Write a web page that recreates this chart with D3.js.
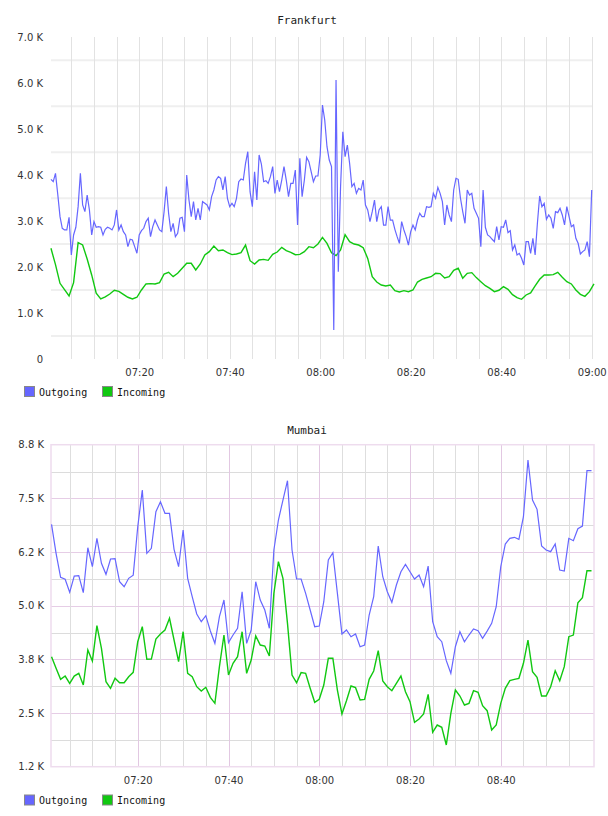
<!DOCTYPE html>
<html>
<head>
<meta charset="utf-8">
<script src="https://cdn.jsdelivr.net/npm/d3@7"></script>
<style>
body{margin:0;background:#fff;}
text{font-family:"DejaVu Sans",sans-serif;}
</style>
</head>
<body>
<div id="chart"></div>
<script>
// Frankfurt: outgoing every 30 s from 07:00:30, incoming every minute from 07:00:30
var fraOut = [
 3910,3859,4040,3584,3098,2844,2808,2808,3083,2264,
 2699,2866,3315,4041,3352,3207,3569,3243,2699,2989,
 2866,2880,2866,2699,2822,2866,2844,2808,2917,3243,
 2808,2917,2771,2699,2445,2605,2590,2445,2300,2699,
 2793,2844,2989,3062,2663,2880,3025,2917,2808,2771,
 3207,3751,3170,2771,2953,2663,2735,3062,3083,2771,
 4005,3460,3098,3424,3025,3279,3025,3424,3388,3352,
 3243,3533,3678,3896,3968,3932,3678,3968,3497,3315,
 3388,3315,3497,3859,3916,3895,4257,4511,3641,3314,
 4076,3459,4439,4243,3858,3880,3822,3967,4185,3604,
 3894,3641,3894,4185,3894,3532,3822,3822,4112,2915,
 4366,3532,3894,4388,4293,4076,3858,3982,3982,4439,
 5526,5200,4620,4330,4185,631,6070,1900,3749,4946,
 4402,4656,4257,3750,3822,3604,3713,3677,3894,3350,
 3242,2988,3206,3459,2988,3242,3314,2915,2915,3314,
 3024,3024,2821,2662,2517,2988,2807,2662,2480,2770,
 2915,2807,3024,3169,3097,3097,3314,3300,3314,3604,
 3496,3735,3604,3424,2917,3352,3134,2989,3678,3932,
 3910,3497,3207,2953,3678,3569,3605,3279,3170,3062,
 2445,3678,2866,2699,2663,2605,2554,2880,2590,2880,
 2866,3025,2750,2793,2373,2481,2264,2300,2191,2046,
 2554,2554,2300,2626,2264,2953,3547,3315,3388,3040,
 3134,3062,2844,3207,3185,3279,3134,2917,3315,3098,
 2880,2917,2626,2518,2285,2336,2373,2554,2228,3678
];
var fraIn = [
 2409,2053,1647,1509,1372,1662,2532,2481,2177,1829,
 1430,1306,1350,1415,1495,1473,1408,1343,1306,1343,
 1502,1633,1640,1633,1662,1850,1887,1792,1865,1974,
 2082,2082,1937,2068,2264,2336,2460,2358,2373,2315,
 2271,2285,2313,2480,2139,2067,2154,2168,2147,2277,
 2328,2429,2357,2321,2270,2277,2335,2444,2422,2502,
 2647,2516,2313,2248,2371,2705,2553,2502,2480,2422,
 2190,1791,1675,1610,1588,1610,1487,1458,1487,1465,
 1501,1675,1733,1762,1791,1864,1858,1763,1792,1930,
 1974,1756,1865,1879,1771,1683,1596,1538,1466,1495,
 1575,1517,1401,1335,1299,1393,1437,1589,1734,1829,
 1829,1836,1887,1778,1683,1633,1502,1408,1364,1466,
 1633
];
// Mumbai: both series every minute from 07:01
var mumOut = [
 6921,6236,5670,5623,5316,5700,5710,5307,6368,5920,
 6590,6000,5740,6102,6110,5566,5448,5646,5720,6864,
 7730,6236,6354,7218,7454,7180,7180,6330,5920,6786,
 5646,5212,4804,4622,4764,4403,4112,4740,5134,4130,
 4308,4466,5330,4112,4426,5566,5134,4898,4466,6314,
 7022,7494,7950,6314,5630,5630,5292,4898,4504,4520,
 5094,6078,6250,5292,4332,4426,4268,4332,4032,4070,
 4780,5212,6408,5684,5330,5080,5488,5802,5976,5802,
 5630,5724,5448,5936,4622,4268,4150,3702,3404,4032,
 4386,4150,4308,4450,4410,4230,4400,4584,4976,5920,
 6456,6590,6614,6567,7100,8438,7494,7274,6408,6314,
 6275,6456,5842,5818,6590,6535,6817,6880,8186,8186
];
var mumIn = [
 3796,3522,3263,3340,3168,3340,3404,3128,3954,3694,
 4528,3994,3206,3050,3286,3182,3182,3324,3428,4150,
 4504,3735,3740,4214,4332,4426,4702,4190,3678,4386,
 3404,3324,3088,2987,3074,2838,2696,3560,4308,3364,
 3640,3796,4386,3404,3718,4285,4072,4048,3813,5292,
 6038,5646,4584,3364,3182,3420,3404,3050,2720,2790,
 3128,3758,3758,3010,2444,2758,3105,3066,2774,2790,
 3263,3459,3938,3222,3088,2994,3168,3340,2970,2735,
 2248,2326,2444,2909,2012,2184,2130,1712,2460,3010,
 2868,2656,2695,2994,2955,2640,2522,2066,2184,2695,
 3050,3230,3260,3286,3640,4190,3442,3310,2868,2868,
 3088,3466,3230,3560,4268,4307,5070,5188,5826,5826
];

var seriesNames = ["Outgoing","Incoming"];
var seriesColors = ["#6666ff","#11c811"];
var fraTicksY = [0,1000,2000,3000,4000,5000,6000,7000];
var fraLabelsY = ["0","1.0 K","2.0 K","3.0 K","4.0 K","5.0 K","6.0 K","7.0 K"];
var mumLabelsY = ["1.2 K","2.5 K","3.8 K","5.0 K","6.2 K","7.5 K","8.8 K"];
var fraTicksX = ["07:20","07:40","08:00","08:20","08:40","09:00"];
var mumTicksX = ["07:20","07:40","08:00","08:20","08:40"];

function init(){
    var svg = d3.select("#chart").append("svg")
                .attr("width", 608)
                .attr("height", 816);
    svg.append("rect").attr("width",608).attr("height",816).attr("fill","#fff");

    var day = function(s){
        var p = s.split(":");
        return new Date(2000,0,1,+p[0],+p[1],+(p[2]||0));
    };
    var series = function(arr, start, step){
        var t0 = +day(start);
        return arr.map((v,i)=>({t:new Date(t0+i*step*1000), v:v}));
    };
    var fmt = d3.timeFormat("%H:%M");

    // ---------- Frankfurt ----------
    var g1 = svg.append("g");
    var x1 = d3.scaleTime().domain([day("07:00"),day("09:00")]).range([48.7,591.7]);
    var y1 = d3.scaleLinear().domain([0,7000]).range([359,37.3]);

    g1.append("text").attr("x",307).attr("y",24).attr("text-anchor","middle")
        .style("font-family","DejaVu Sans Mono").style("font-size","11px").attr("fill","#222")
        .text("Frankfurt");

    g1.selectAll(".hg").data(d3.range(500,7000,1000)).enter().append("line")
        .attr("x1",51).attr("x2",593)
        .attr("y1",d=>y1(d)).attr("y2",d=>y1(d))
        .attr("stroke","#efefef").attr("stroke-width",2);

    var fiveMin1 = d3.timeMinute.every(5).range(day("07:05"), day("09:00:30"));
    g1.selectAll(".vg").data(fiveMin1).enter().append("line")
        .attr("x1",d=>Math.round(x1(d))+0.5).attr("x2",d=>Math.round(x1(d))+0.5)
        .attr("y1",37).attr("y2",359)
        .attr("stroke","#e2e2e2").attr("stroke-width",1);

    var ax1 = d3.axisLeft(y1).tickValues(fraTicksY).tickSize(0).tickPadding(8)
        .tickFormat((d,i)=>fraLabelsY[i]);
    var gy1 = g1.append("g").attr("transform","translate(51,0)").call(ax1);
    gy1.select(".domain").remove();
    gy1.selectAll("text").style("font-size","10px").style("font-family","DejaVu Sans").attr("fill","#333");

    var ax1x = d3.axisBottom(x1).tickValues(fraTicksX.map(day)).tickSize(0).tickPadding(10)
        .tickFormat(fmt);
    var gx1 = g1.append("g").attr("transform","translate(0,359)").call(ax1x);
    gx1.select(".domain").remove();
    gx1.selectAll("text").style("font-size","10px").style("font-family","DejaVu Sans").attr("fill","#333");

    var line1 = d3.line().x(d=>x1(d.t)).y(d=>y1(d.v));
    g1.append("path").datum(series(fraIn,"07:00:30",60))
        .attr("d",line1).attr("fill","none").attr("stroke",seriesColors[1]).attr("stroke-width",1.4);
    g1.append("path").datum(series(fraOut,"07:00:30",30))
        .attr("d",line1).attr("fill","none").attr("stroke",seriesColors[0]).attr("stroke-width",1.2);

    drawLegend(svg, 386.5);

    // ---------- Mumbai ----------
    var g2 = svg.append("g");
    var x2 = d3.scaleTime().domain([day("07:00"),day("09:00")]).range([47,591.5]);
    var y2 = d3.scaleLinear().domain([1200,8800]).range([766.7,444.7]);
    var step = (8800-1200)/6;
    var mumTicksY = d3.range(7).map(i=>1200+i*step);

    g2.append("text").attr("x",307).attr("y",434).attr("text-anchor","middle")
        .style("font-family","DejaVu Sans Mono").style("font-size","11px").attr("fill","#222")
        .text("Mumbai");

    g2.selectAll(".hm").data(mumTicksY.slice(0,6).map(d=>d+step/2)).enter().append("line")
        .attr("x1",51).attr("x2",594)
        .attr("y1",d=>Math.round(y2(d))+0.5).attr("y2",d=>Math.round(y2(d))+0.5)
        .attr("stroke","#dcdcdc").attr("stroke-width",1);
    g2.selectAll(".hp").data(mumTicksY.slice(1,6)).enter().append("line")
        .attr("x1",51).attr("x2",594)
        .attr("y1",d=>Math.round(y2(d))+0.5).attr("y2",d=>Math.round(y2(d))+0.5)
        .attr("stroke","#e6cde6").attr("stroke-width",1);

    var fiveMin2 = d3.timeMinute.every(5).range(day("07:05"), day("09:00"));
    g2.selectAll(".vm").data(fiveMin2).enter().append("line")
        .attr("x1",d=>Math.round(x2(d))+0.5).attr("x2",d=>Math.round(x2(d))+0.5)
        .attr("y1",444.7).attr("y2",766.7)
        .attr("stroke",d=>d.getMinutes()%20==0 ? "#e2c8e2" : "#dedede").attr("stroke-width",1);

    g2.append("rect").attr("x",51).attr("y",444.7).attr("width",543).attr("height",322)
        .attr("fill","none").attr("stroke","#eedcee").attr("stroke-width",1.5);

    var ax2 = d3.axisLeft(y2).tickValues(mumTicksY).tickSize(0).tickPadding(7)
        .tickFormat((d,i)=>mumLabelsY[i]);
    var gy2 = g2.append("g").attr("transform","translate(51,0)").call(ax2);
    gy2.select(".domain").remove();
    gy2.selectAll("text").style("font-size","10px").style("font-family","DejaVu Sans").attr("fill","#333");

    var ax2x = d3.axisBottom(x2).tickValues(mumTicksX.map(day)).tickSize(0).tickPadding(10)
        .tickFormat(fmt);
    var gx2 = g2.append("g").attr("transform","translate(0,767)").call(ax2x);
    gx2.select(".domain").remove();
    gx2.selectAll("text").style("font-size","10px").style("font-family","DejaVu Sans").attr("fill","#333");

    var line2 = d3.line().x(d=>x2(d.t)).y(d=>y2(d.v));
    g2.append("path").datum(series(mumIn,"07:01",60))
        .attr("d",line2).attr("fill","none").attr("stroke",seriesColors[1]).attr("stroke-width",1.4);
    g2.append("path").datum(series(mumOut,"07:01",60))
        .attr("d",line2).attr("fill","none").attr("stroke",seriesColors[0]).attr("stroke-width",1.2);

    drawLegend(svg, 795);
}

// legend: swatch + monospace label for each series
function drawLegend(svg, top){
    var lx = [24.5, 102.5];
    var lg = svg.append("g");
    seriesNames.forEach((name,i)=>{
        lg.append("rect").attr("x",lx[i]).attr("y",top).attr("width",10).attr("height",10)
            .attr("fill",seriesColors[i]).attr("stroke","#888").attr("stroke-width",1);
        lg.append("text").attr("x",lx[i]+14.5).attr("y",top+9)
            .style("font-family","DejaVu Sans Mono").style("font-size","10px").attr("fill","#111")
            .text(name);
    });
}
window.onload = init;
</script>
</body>
</html>
